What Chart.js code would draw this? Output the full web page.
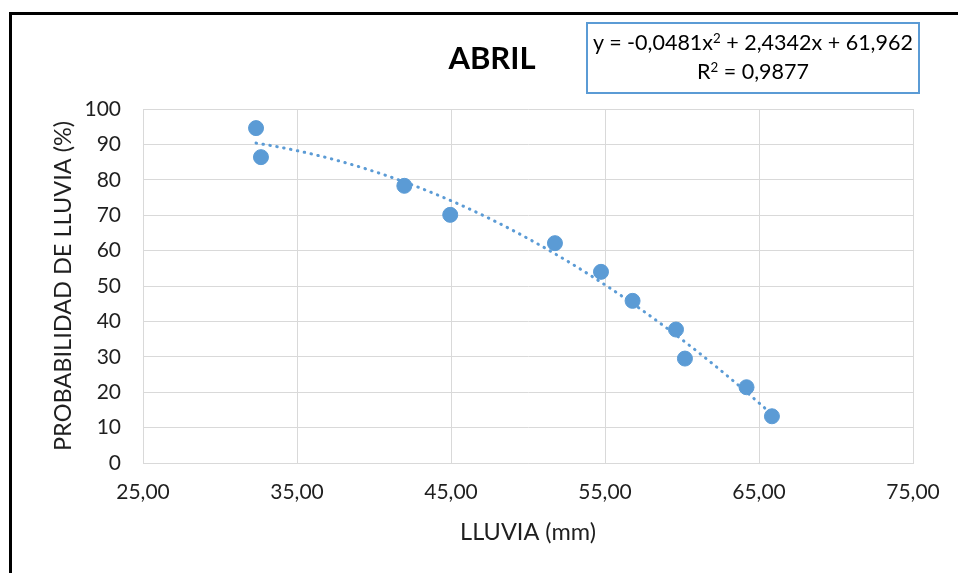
<!DOCTYPE html>
<html>
<head>
<meta charset="utf-8">
<script src="https://cdn.jsdelivr.net/npm/chart.js@4/dist/chart.umd.min.js"></script>
<style>
  html, body { margin: 0; padding: 0; background: #fff; }
  #wrap { position: relative; width: 958px; height: 573px; overflow: hidden; }
  #myChart { position: absolute; left: 0; top: 0; }
  #frame { position: absolute; left: 9px; top: 12px; width: 980px; height: 600px;
           border-top: 3px solid #000; border-left: 3px solid #000; pointer-events: none; }
  #title { position: absolute; left: 392px; top: 38px; width: 200px; line-height: 36px;
           text-align: center; font: bold 31px Lato, sans-serif; color: #000; }
  #eq { position: absolute; left: 586px; top: 22px; width: 330px; height: 64px;
        border: 2px solid #5b9bd5; background: #fff; text-align: center;
        font: 21.5px Lato, sans-serif; color: #000; line-height: 29px; padding-top: 4px; box-sizing: content-box; }
  #eq sup { font-size: 0.62em; line-height: 0; vertical-align: 0.55em; }
</style>
</head>
<body>
<div id="wrap">
  <canvas id="myChart" width="958" height="573"></canvas>
  <div id="frame"></div>
  <div id="title">ABRIL</div>
  <div id="eq">y = -0,0481x<sup>2</sup> + 2,4342x + 61,962<br>R<sup>2</sup> = 0,9877</div>
</div>
<script>
// lluvia (mm) y probabilidad (%)
const rainfall = [32.34, 32.66, 41.97, 44.95, 51.75, 54.74, 56.79, 59.61, 60.19, 64.19, 65.84];
const probability = [94.6, 86.4, 78.3, 70.1, 62.1, 54.0, 45.8, 37.7, 29.5, 21.4, 13.2];

// coeficientes de la linea de tendencia polinomica (a x^2 + b x + c)
const trendCoef = [-0.0481, 2.4342, 61.962];

const xTicks = [25, 35, 45, 55, 65, 75];
const yTicks = [0, 10, 20, 30, 40, 50, 60, 70, 80, 90, 100];

const blue = "#5b9bd5";
const gridGray = "#d9d9d9";
const textColor = "#1f1f1f";
const tickFont = { family: "Lato", size: 21 };
const titleFont = { family: "Lato", size: 23.5 };

const points = rainfall.map((x, i) => ({ x: x, y: probability[i] }));

const xMin = Math.min(...rainfall);
const xMax = Math.max(...rainfall);
const trend = [];
for (let i = 0; i <= 60; i++) {
  const x = xMin + (xMax - xMin) * i / 60;
  trend.push({ x: x, y: trendCoef[0] * x * x + trendCoef[1] * x + trendCoef[2] });
}

const ctx = document.getElementById("myChart").getContext("2d");
const myChart = new Chart(ctx, {
  type: "scatter",
  data: {
    datasets: [
      {
        label: "Probabilidad",
        data: points,
        backgroundColor: blue,
        borderColor: blue,
        pointRadius: 7.5,
        pointHoverRadius: 7.5,
        order: 1,
      },
      {
        label: "Tendencia",
        type: "line",
        data: trend,
        borderColor: blue,
        borderWidth: 3,
        borderDash: [0.5, 6.5],
        borderCapStyle: "round",
        pointRadius: 0,
        fill: false,
        tension: 0,
        order: 2,
      },
    ],
  },
  options: {
    responsive: false,
    animation: false,
    layout: { padding: { top: 109, right: 45, left: 0, bottom: 0 } },
    plugins: {
      legend: { display: false },
      tooltip: { enabled: false },
    },
    scales: {
      x: {
        type: "linear",
        min: xTicks[0],
        max: xTicks[xTicks.length - 1],
        afterBuildTicks: (scale) => { scale.ticks = xTicks.map((v) => ({ value: v })); },
        afterFit: (scale) => { scale.height = 110; },
        ticks: {
          color: textColor,
          font: tickFont,
          padding: 17,
          maxRotation: 0,
          callback: (v) => v.toFixed(2).replace(".", ","),
        },
        grid: { color: gridGray, drawTicks: false },
        border: { color: gridGray },
        title: {
          display: true,
          text: "LLUVIA (mm)",
          color: textColor,
          font: titleFont,
          padding: { top: 0, bottom: 26 },
        },
      },
      y: {
        min: yTicks[0],
        max: yTicks[yTicks.length - 1],
        afterBuildTicks: (scale) => { scale.ticks = yTicks.map((v) => ({ value: v })); },
        afterFit: (scale) => { scale.width = 143; },
        ticks: {
          color: textColor,
          font: tickFont,
          padding: 22,
        },
        grid: { color: gridGray, drawTicks: false },
        border: { color: gridGray },
        title: {
          display: true,
          text: "PROBABILIDAD DE LLUVIA (%)",
          color: textColor,
          font: titleFont,
          padding: { top: 49, bottom: 0 },
        },
      },
    },
  },
});
</script>
</body>
</html>
